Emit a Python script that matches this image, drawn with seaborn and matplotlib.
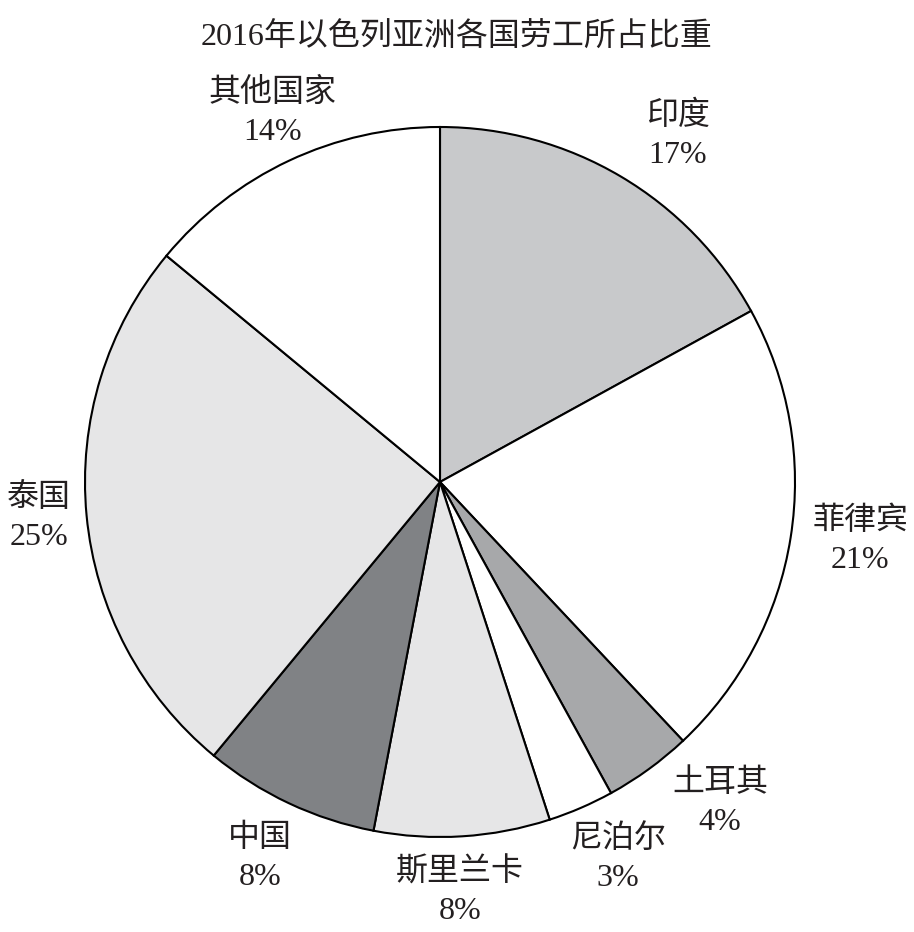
import matplotlib
matplotlib.use("Agg")
import numpy as np
import matplotlib.pyplot as plt
import seaborn as sns

countries = ["印度", "菲律宾", "土耳其", "尼泊尔", "斯里兰卡", "中国", "泰国", "其他国家"]
shares = [17, 21, 4, 3, 8, 8, 25, 14]
colors = ["#c8c9cb", "#ffffff", "#a7a8aa", "#ffffff", "#e6e6e7", "#808285", "#e6e6e7", "#ffffff"]
# label placement: distance from centre (radii) and clockwise shift from the wedge middle (deg)
label_dist = [1.185, 1.195, 1.20, 1.174, 1.156, 1.174, 1.134, 1.143]
label_shift = [3.8, -1.0, -5.1, -1.9, 0.8, 0.4, 0.4, 0.9]
title = "2016年以色列亚洲各国劳工所占比重"

sns.set_theme(style="white")
plt.rcParams['font.family'] = ['Liberation Serif', 'Noto Sans CJK SC']

fig = plt.figure(figsize=(9.14, 9.32), dpi=100)
ax = fig.add_axes([0, 0, 1, 1])

cx, cy, r = 440, 450, 355
wedges, _ = ax.pie(
    shares, colors=colors, startangle=90, counterclock=False,
    center=(cx, cy), radius=r,
    wedgeprops=dict(edgecolor="black", linewidth=1.5),
)

for w, c, s, d, sh in zip(wedges, countries, shares, label_dist, label_shift):
    mid = np.deg2rad((w.theta1 + w.theta2) / 2 - sh)
    ax.text(cx + d * r * np.cos(mid), cy + d * r * np.sin(mid), f"{c}\n{s}%",
            ha="center", va="center", fontsize=23, color="#231f20",
            linespacing=1.45)

ax.text(457, 932 - 38, title, ha="center", va="center", fontsize=23, color="#231f20")

ax.set_xlim(0, 914)
ax.set_ylim(0, 932)
ax.set_aspect("equal")
ax.axis("off")

fig.savefig("out.png", dpi=100, facecolor="white")
